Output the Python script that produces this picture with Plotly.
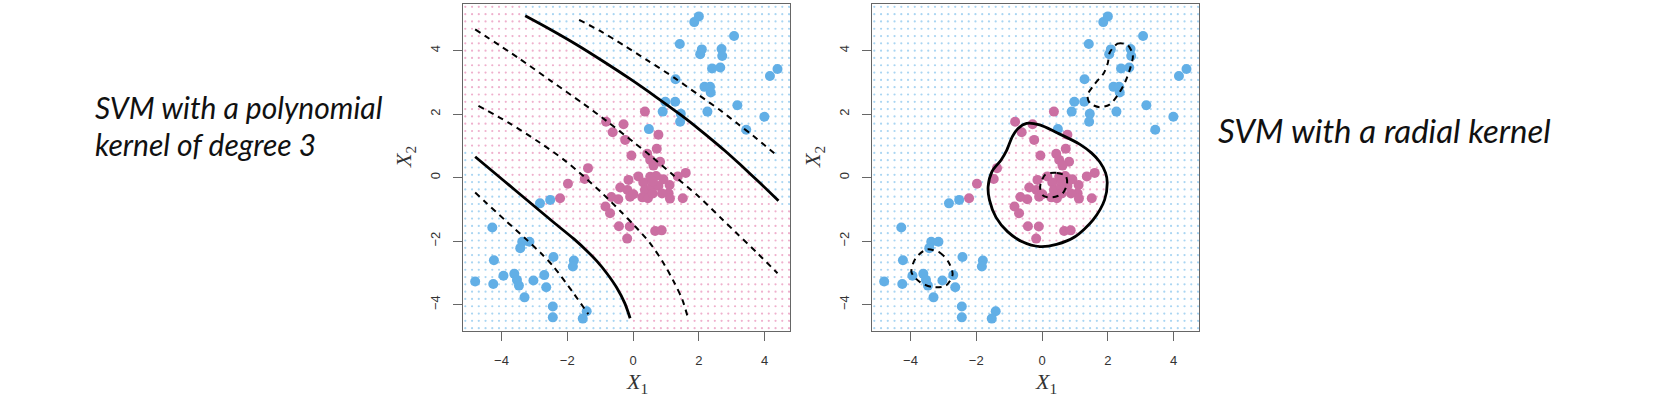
import numpy as np
import plotly.graph_objects as go

# ---------------- data ----------------
blue_x = [1.86, 2.00, 1.42, 2.04, 2.09, 2.69, 2.71, 3.07, 2.40, 2.65, 1.29, 2.17, 2.34, 2.36,
          4.16, 4.39, 3.17, 3.99, 3.44, 2.26, 0.98, 0.90, 1.28, 1.45, 1.43, 0.48,
          -2.83, -2.52, -4.28, -4.23, -4.80, -4.25, -3.94, -3.37, -3.15, -3.43, -3.61, -3.53,
          -3.47, -3.30, -3.03, -2.70, -2.64, -2.42, -1.80, -1.83, -2.44, -2.44, -1.41, -1.53]
blue_y = [4.90, 5.08, 4.21, 3.89, 4.04, 4.05, 3.83, 4.46, 3.44, 3.47, 3.10, 2.86, 2.86, 2.68,
          3.20, 3.42, 2.28, 1.92, 1.51, 2.08, 2.39, 2.08, 2.39, 2.01, 1.76, 1.53,
          -0.81, -0.70, -1.57, -2.60, -3.27, -3.35, -3.09, -2.02, -2.02, -2.22, -3.03, -3.22,
          -3.40, -3.77, -3.24, -3.07, -3.45, -2.50, -2.61, -2.80, -4.06, -4.40, -4.21, -4.44]

pink_x = [0.36, -0.82, -0.29, -0.62, -0.24, 0.77, 0.72, -0.05, 0.43, 0.52, 0.82, 0.62,
          -1.37, -1.47, -1.98, -2.22, 1.60, 1.36, 1.51, 1.11, 1.08, 1.12,
          -0.39, -0.14, 0.16, -0.17, -0.09, 0.01, -0.66, -0.84, -0.70, -0.45,
          -0.43, -0.10, -0.18, 0.67, 0.87, 0.31, 0.52, 0.70, 0.36, 0.57, 0.28, 0.77,
          0.88, 0.45, 0.60, 0.92, 0.60]
pink_y = [2.08, 1.76, 1.68, 1.43, 1.19, 1.35, 0.91, 0.70, 0.75, 0.56, 0.50, 0.38,
          0.30, -0.04, -0.19, -0.65, 0.15, 0.04, -0.65, -0.23, -0.49, -0.66,
          -0.31, -0.07, 0.04, -0.39, -0.60, -0.52, -0.61, -0.91, -1.12, -0.68,
          -1.53, -1.54, -1.92, -1.68, -1.66, -0.15, 0.03, 0.05, -0.39, -0.28, -0.62, -0.26,
          -0.50, -0.65, -0.12, -0.05, -0.50]

# polynomial kernel: decision boundary (solid) and margins (dashed)
poly_upper_x = [-3.28, -2.5, -1.7, -0.9, -0.09, 0.7, 1.43, 2.0, 2.39, 2.8, 3.25, 3.86, 4.42]
poly_upper_y = [5.10, 4.66, 4.18, 3.66, 3.11, 2.54, 1.99, 1.53, 1.20, 0.84, 0.42, -0.17, -0.73]
poly_lower_x = [-4.80, -4.2, -3.6, -3.0, -2.4, -1.8, -1.41, -1.1, -0.80, -0.50, -0.25, -0.09]
poly_lower_y = [0.66, 0.14, -0.38, -0.90, -1.42, -1.93, -2.30, -2.63, -3.01, -3.46, -3.96, -4.43]

poly_m1_x = [-1.64, -1.0, -0.3, 0.4, 1.29, 2.0, 2.64, 3.2, 3.65, 4.36]
poly_m1_y = [4.97, 4.62, 4.18, 3.72, 3.12, 2.60, 2.13, 1.68, 1.32, 0.71]
poly_m2_x = [-4.80, -3.5, -2.5, -1.5, -0.8, 0.0, 0.52, 1.2, 2.0, 2.7, 3.15, 3.8, 4.39]
poly_m2_y = [4.67, 3.78, 3.05, 2.32, 1.78, 1.13, 0.70, 0.10, -0.60, -1.30, -1.75, -2.40, -3.01]
poly_m3_x = [-4.70, -3.8, -2.83, -2.1, -1.51, -0.9, -0.39, 0.06, 0.52, 0.9, 1.25, 1.5, 1.68]
poly_m3_y = [2.26, 1.74, 1.10, 0.56, 0.05, -0.53, -1.05, -1.53, -2.07, -2.65, -3.30, -3.85, -4.46]
poly_m4_x = [-4.80, -4.50, -3.9, -3.23, -2.8, -2.42, -1.81, -1.36]
poly_m4_y = [-0.47, -0.76, -1.33, -1.96, -2.38, -2.80, -3.64, -4.30]

# radial kernel: decision boundary (solid) and margins (dashed loops)
rad_b_x = [-0.47, -0.07, 0.44, 1.15, 1.50, 1.75, 1.93, 1.98, 1.90, 1.55, 1.00, 0.44, -0.07,
           -0.60, -1.05, -1.40, -1.60, -1.64, -1.52, -1.25, -1.08, -0.90, -0.73, -0.47]
rad_b_y = [1.71, 1.66, 1.42, 1.05, 0.78, 0.50, 0.15, -0.15, -0.70, -1.33, -1.86, -2.10, -2.17,
           -2.02, -1.70, -1.25, -0.70, -0.28, 0.20, 0.55, 0.85, 1.30, 1.55, 1.71]
rad_m1_x = [2.06, 2.30, 2.60, 2.76, 2.68, 2.52, 2.30, 2.05, 1.75, 1.45, 1.38, 1.60, 1.88, 2.00, 2.06]
rad_m1_y = [3.95, 4.22, 4.18, 3.85, 3.45, 3.00, 2.60, 2.30, 2.22, 2.35, 2.60, 2.95, 3.30, 3.62, 3.95]
rad_m2_x = [0.10, 0.45, 0.72, 0.76, 0.62, 0.32, 0.05, -0.06, 0.10]
rad_m2_y = [0.10, 0.15, 0.05, -0.20, -0.50, -0.62, -0.58, -0.30, 0.10]
rad_m3_x = [-3.51, -3.11, -2.85, -2.72, -2.92, -3.31, -3.70, -3.97, -3.85, -3.51]
rad_m3_y = [-2.26, -2.36, -2.65, -3.05, -3.40, -3.45, -3.30, -2.98, -2.55, -2.26]

tick_vals = [-4, -2, 0, 2, 4]
tick_text = ["\u22124", "\u22122", "0", "2", "4"]

# ---------------- styling ----------------
W, H = 1658, 397
BLUE = "#62AFE6"
PINK = "#CB6FA2"
BLUE_DOT = "#a9d5f2"
PINK_DOT = "#efb0cd"
X_RANGE = [-5.17, 4.77]
Y_RANGE = [-4.83, 5.47]

# prediction grid (display grid of the classifier regions)
gx1 = np.arange(-5.10, 4.77, 0.205)
gy1 = np.arange(5.38, -4.83, -0.23)
GX, GY = np.meshgrid(gx1, gy1)
GX = GX.ravel()
GY = GY.ravel()

# polynomial: pink between the two solid boundaries
up = np.interp(GX, poly_upper_x, poly_upper_y, left=np.inf, right=-1.05)
lo = np.interp(GX, poly_lower_x, poly_lower_y, left=1.0, right=-np.inf)
poly_pink = (GY < up) & (GY > lo)


def inside(px, py, vx, vy):
    vx = np.asarray(vx)
    vy = np.asarray(vy)
    res = np.zeros(px.shape, dtype=bool)
    n = len(vx)
    j = n - 1
    for i in range(n):
        xi, yi, xj, yj = vx[i], vy[i], vx[j], vy[j]
        cond = ((yi > py) != (yj > py))
        with np.errstate(divide="ignore", invalid="ignore"):
            xint = (xj - xi) * (py - yi) / (yj - yi) + xi
        res ^= cond & (px < xint)
        j = i
    return res


rad_pink = inside(GX, GY, rad_b_x, rad_b_y)

fig = go.Figure()


def add_panel(fig, xa, ya, pink_mask, solid, dashed):
    fig.add_trace(go.Scatter(x=GX[~pink_mask], y=GY[~pink_mask], mode="markers",
                             marker=dict(size=2.2, color=BLUE_DOT), xaxis=xa, yaxis=ya,
                             hoverinfo="skip", showlegend=False))
    fig.add_trace(go.Scatter(x=GX[pink_mask], y=GY[pink_mask], mode="markers",
                             marker=dict(size=2.2, color=PINK_DOT), xaxis=xa, yaxis=ya,
                             hoverinfo="skip", showlegend=False))
    fig.add_trace(go.Scatter(x=blue_x, y=blue_y, mode="markers",
                             marker=dict(size=10, color=BLUE), xaxis=xa, yaxis=ya, showlegend=False))
    fig.add_trace(go.Scatter(x=pink_x, y=pink_y, mode="markers",
                             marker=dict(size=10, color=PINK), xaxis=xa, yaxis=ya, showlegend=False))
    for cx, cy in dashed:
        fig.add_trace(go.Scatter(x=cx, y=cy, mode="lines",
                                 line=dict(color="black", width=2.0, dash="6px,5px", shape="spline", smoothing=0.8),
                                 xaxis=xa, yaxis=ya, showlegend=False))
    for cx, cy in solid:
        fig.add_trace(go.Scatter(x=cx, y=cy, mode="lines",
                                 line=dict(color="black", width=2.8, shape="spline", smoothing=0.8),
                                 xaxis=xa, yaxis=ya, showlegend=False))


add_panel(fig, "x", "y", poly_pink,
          [(poly_upper_x, poly_upper_y), (poly_lower_x, poly_lower_y)],
          [(poly_m1_x, poly_m1_y), (poly_m2_x, poly_m2_y), (poly_m3_x, poly_m3_y), (poly_m4_x, poly_m4_y)])
add_panel(fig, "x2", "y2", rad_pink,
          [(rad_b_x, rad_b_y)],
          [(rad_m1_x, rad_m1_y), (rad_m2_x, rad_m2_y), (rad_m3_x, rad_m3_y)])

axis_common = dict(showgrid=False, zeroline=False, showline=True, mirror=True,
                   linecolor="#666", linewidth=1.2, ticks="outside", ticklen=9,
                   tickcolor="#666", tickwidth=1.2, tickvals=tick_vals, ticktext=tick_text,
                   tickfont=dict(family="Liberation Sans, Arial", size=13, color="#333"),
                   ticklabelstandoff=8, fixedrange=True)

y_dom = [1 - 331 / H, 1 - 4 / H]
fig.update_layout(
    width=W, height=H, autosize=False,
    margin=dict(l=0, r=0, t=0, b=0),
    paper_bgcolor="white", plot_bgcolor="white",
    xaxis=dict(domain=[463 / W, 790 / W], range=X_RANGE, anchor="y", **axis_common),
    yaxis=dict(domain=y_dom, range=Y_RANGE, anchor="x", tickangle=-90, **axis_common),
    xaxis2=dict(domain=[872 / W, 1199 / W], range=X_RANGE, anchor="y2", **axis_common),
    yaxis2=dict(domain=y_dom, range=Y_RANGE, anchor="x2", tickangle=-90, **axis_common),
)

ann = []
left_font = dict(family="Lato, Open Sans, sans-serif", size=30, color="#111")
right_font = dict(family="Lato, Open Sans, sans-serif", size=33, color="#111")
ann.append(dict(text="<i>SVM with a polynomial</i>", x=93 / W, y=1 - 107 / H, xref="paper", yref="paper",
                xanchor="left", yanchor="middle", showarrow=False, font=left_font))
ann.append(dict(text="<i>kernel of degree 3</i>", x=93 / W, y=1 - 144 / H, xref="paper", yref="paper",
                xanchor="left", yanchor="middle", showarrow=False, font=left_font))
ann.append(dict(text="<i>SVM with a radial kernel</i>", x=1216 / W, y=1 - 130 / H, xref="paper", yref="paper",
                xanchor="left", yanchor="middle", showarrow=False, font=right_font))

lab_font = dict(family="Liberation Serif, DejaVu Serif, serif", size=22, color="#333")
for cx in (637, 1046):
    ann.append(dict(text="<i>X</i><sub>1</sub>", x=cx / W, y=1 - 383 / H, xref="paper", yref="paper",
                    xanchor="center", yanchor="middle", showarrow=False, font=lab_font))
for cx in (405, 814):
    ann.append(dict(text="<i>X</i><sub>2</sub>", x=cx / W, y=1 - 157 / H, xref="paper", yref="paper",
                    xanchor="center", yanchor="middle", showarrow=False, font=lab_font, textangle=-90))
fig.update_layout(annotations=ann)

fig.write_html("out.html", config={"displayModeBar": False},
               post_script="document.body.style.margin='0';document.body.style.padding='0';")
